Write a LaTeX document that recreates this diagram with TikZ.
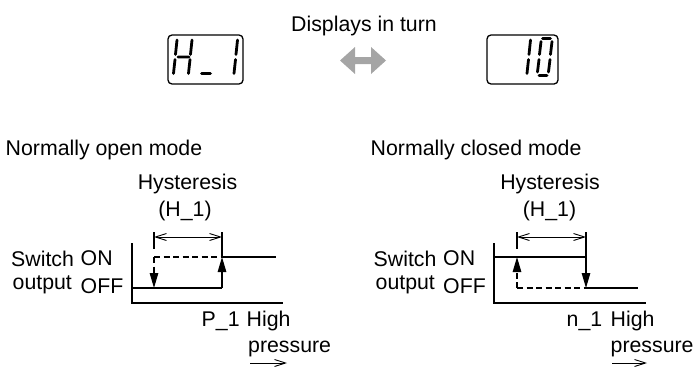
\documentclass[tikz,border=0pt]{standalone}
\usepackage{fontspec}
\setmainfont{Liberation Sans}
\usetikzlibrary{arrows.meta}
\newcommand\vsg[4]{\fill (#1,#2) -- (#1+1.4,#2+1.6) -- (#3+1.4,#4-1.6) -- (#3,#4) -- (#3-1.4,#4-1.6) -- (#1-1.4,#2+1.6) -- cycle;}
\newcommand\hsg[3]{\fill (#1,#3) -- (#1+1.6,#3-1.4) -- (#2-1.6,#3-1.4) -- (#2,#3) -- (#2-1.6,#3+1.4) -- (#1+1.6,#3+1.4) -- cycle;}
\begin{document}
\begin{tikzpicture}[x=1pt,y=-1pt,
  txt/.style={font=\fontsize{21.3}{25}\selectfont, inner sep=0pt, text=black},
  ln/.style={line width=1.2pt},
  dsh/.style={line width=1.2pt, dash pattern=on 6pt off 3.5pt},
  dimarr/.style={line width=0.9pt, {Straight Barb[length=11pt,width=7pt]}-{Straight Barb[length=11pt,width=7pt]}},
  dirarr/.style={line width=0.9pt, -{Straight Barb[length=11pt,width=7pt]}},
  tri/.style={-{Triangle[length=15pt,width=8.5pt]}},
  disp/.style={line width=1.3pt, rounded corners=4pt},
  swapfill/.style={fill={rgb,255:red,165;green,165;blue,165}}
]
\useasboundingbox (0,0) rectangle (696,367);

% ---------- displays ----------
\draw[disp] (168,35) rectangle (243,84);
\draw[disp] (487,35) rectangle (558,84);
% H
\vsg{177}{38.5}{175.5}{56}
\vsg{175}{58}{173.5}{75}
\vsg{192}{38.5}{190.5}{56}
\vsg{190}{58}{188.5}{75}
\hsg{176.5}{190.5}{57}
% _
\hsg{200}{212}{73.5}
% 1
\vsg{237.5}{38.5}{236}{56}
\vsg{235.5}{58}{234}{75}
% 10
\vsg{530.5}{38.5}{529}{56}
\vsg{528.5}{58}{527}{75}
\vsg{541}{40}{539.5}{56}
\vsg{539}{58}{537.5}{73.5}
\vsg{552}{40}{550.5}{56}
\vsg{550}{58}{548.5}{73.5}
\hsg{541}{552}{38.5}
\hsg{537.5}{548.5}{75.5}

% swap arrow
\fill[swapfill] (340,60.5) -- (355,47) -- (355,57) -- (371,57) -- (371,47) -- (386,60.5)
  -- (371,74) -- (371,64) -- (355,64) -- (355,74) -- cycle;

\node[txt, anchor=base] (title) at (364,31.5) {Displays in turn};
\node[txt, anchor=base west] (nom) at (5.5,155) {Normally open mode};
\node[txt, anchor=base west] (ncm) at (370.5,155.5) {Normally closed mode};

% ---------- left chart ----------
\node[txt, anchor=base] (hysA) at (187.5,189.5) {Hysteresis};
\node[txt, anchor=base] (hA) at (185,216.5) {(H\_1)};
\node[txt, anchor=base west] (swA) at (11,266.5) {Switch};
\node[txt, anchor=base west] (onA) at (80.5,265.5) {ON};
\node[txt, anchor=base west] (outA) at (12.5,289.5) {output};
\node[txt, anchor=base west] (offA) at (80.5,293) {OFF};
\node[txt, anchor=base west] (pA) at (201.5,326.5) {P\_1};
\node[txt, anchor=base west] (hiA) at (246.5,326.5) {High};
\node[txt, anchor=base west] (prA) at (248,352.5) {pressure};

\coordinate (aTop) at (132,243);
\coordinate (aO) at (132,303);
\coordinate (aEnd) at (283,303);
\coordinate (aOff0) at (132,288);
\coordinate (aL1) at (154,232);
\coordinate (aL2) at (154,249);
\coordinate (aLon) at (154,257);
\coordinate (aLoff) at (154,288);
\coordinate (aR1) at (222,232);
\coordinate (aRon) at (222,257);
\coordinate (aRoff) at (222,288);
\coordinate (aOnEnd) at (276,257);
\coordinate (aD1) at (154,237);
\coordinate (aD2) at (222,237);
\coordinate (aP1) at (250,363);
\coordinate (aP2) at (287,363);

\draw[ln] (aTop) -- (aO) -- (aEnd);
\draw[ln] (aOff0) -- (aRoff);
\draw[ln, tri] (aRoff) -- (aRon);
\draw[ln] (aR1) -- (aRon) -- (aOnEnd);
\draw[dsh] (aLon) -- (aRon);
\draw[ln] (aL1) -- (aL2);
\draw[dsh, tri] (aLon) -- (aLoff);
\draw[dimarr] (aD1) -- (aD2);
\draw[dirarr] (aP1) -- (aP2);

% ---------- right chart ----------
\node[txt, anchor=base] (hysB) at (550,189.5) {Hysteresis};
\node[txt, anchor=base] (hB) at (549.5,216.5) {(H\_1)};
\node[txt, anchor=base west] (swB) at (373.5,266.5) {Switch};
\node[txt, anchor=base west] (onB) at (443,265.5) {ON};
\node[txt, anchor=base west] (outB) at (375.5,289.5) {output};
\node[txt, anchor=base west] (offB) at (443,293) {OFF};
\node[txt, anchor=base west] (nB) at (566.5,326.5) {n\_1};
\node[txt, anchor=base west] (hiB) at (610.5,326.5) {High};
\node[txt, anchor=base west] (prB) at (610.5,352.5) {pressure};

\coordinate (bTop) at (494,243);
\coordinate (bO) at (494,303);
\coordinate (bEnd) at (646,303);
\coordinate (bOn0) at (494,257);
\coordinate (bL1) at (517,232);
\coordinate (bL2) at (517,249);
\coordinate (bLon) at (517,257);
\coordinate (bLoff) at (517,288);
\coordinate (bR1) at (586,232);
\coordinate (bRon) at (586,257);
\coordinate (bRoff) at (586,288);
\coordinate (bOffEnd) at (638,288);
\coordinate (bD1) at (517,237);
\coordinate (bD2) at (586,237);
\coordinate (bP1) at (612,363);
\coordinate (bP2) at (647,363);

\draw[ln] (bTop) -- (bO) -- (bEnd);
\draw[ln] (bOn0) -- (bRon);
\draw[ln] (bR1) -- (bRon);
\draw[ln, tri] (bRon) -- (bRoff);
\draw[ln] (bRoff) -- (bOffEnd);
\draw[dsh] (bLoff) -- (bRoff);
\draw[ln] (bL1) -- (bL2);
\draw[dsh, tri] (bLoff) -- (bLon);
\draw[dimarr] (bD1) -- (bD2);
\draw[dirarr] (bP1) -- (bP2);
\end{tikzpicture}
\end{document}
